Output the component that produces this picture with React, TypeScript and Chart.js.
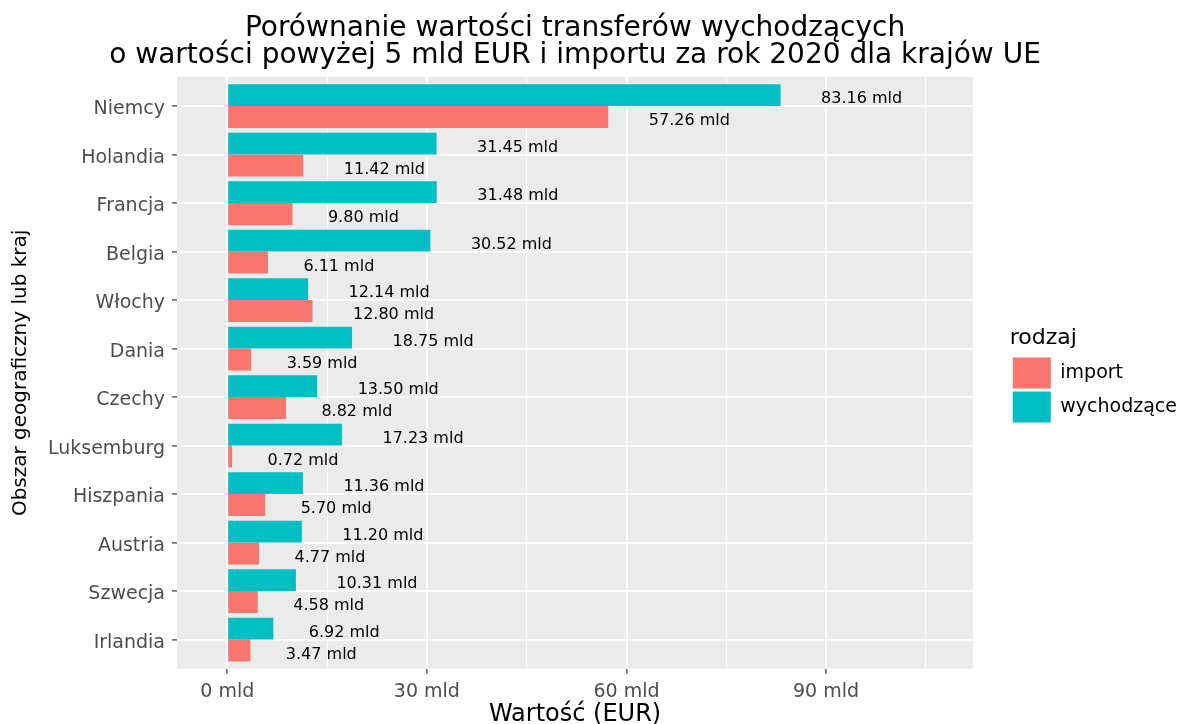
import { useEffect, useRef } from 'react';
import { Chart, registerables } from 'chart.js';

Chart.register(...registerables);

const FONT = "'DejaVu Sans', sans-serif";

const categories = [
  'Niemcy', 'Holandia', 'Francja', 'Belgia', 'Włochy', 'Dania',
  'Czechy', 'Luksemburg', 'Hiszpania', 'Austria', 'Szwecja', 'Irlandia',
];
const outgoingValues = [83.16, 31.45, 31.48, 30.52, 12.14, 18.75, 13.5, 17.23, 11.36, 11.2, 10.31, 6.92];
const importValues = [57.26, 11.42, 9.8, 6.11, 12.8, 3.59, 8.82, 0.72, 5.7, 4.77, 4.58, 3.47];
const seriesNames = ['wychodzące', 'import'];
const xMajorTicks = [0, 30, 60, 90];
const titleLines = [
  'Porównanie wartości transferów wychodzących',
  'o wartości powyżej 5 mld EUR i importu za rok 2020 dla krajów UE',
];

export default function App() {
  const ref = useRef<HTMLCanvasElement>(null);

  useEffect(() => {
    const canvas = ref.current!;

    const panelPlugin = {
      id: 'panelBg',
      beforeDraw(chart: any) {
        const { ctx, chartArea: a, width, height } = chart;
        ctx.save();
        ctx.fillStyle = '#FFFFFF';
        ctx.fillRect(0, 0, width, height);
        ctx.fillStyle = '#EBEBEB';
        ctx.fillRect(a.left, a.top, a.right - a.left, a.bottom - a.top);
        ctx.restore();
      },
    };

    // Plot title, centred over the panel like ggplot's plot.title
    const titlePlugin = {
      id: 'panelTitle',
      afterDraw(chart: any) {
        const { ctx, chartArea: a } = chart;
        const cx = (a.left + a.right) / 2;
        ctx.save();
        ctx.font = `28px ${FONT}`;
        ctx.fillStyle = '#000000';
        ctx.textAlign = 'center';
        ctx.textBaseline = 'alphabetic';
        titleLines.forEach((line, i) => {
          ctx.fillText(line, cx, 36 + i * 27);
        });
        ctx.restore();
      },
    };

    const labelPlugin = {
      id: 'valueLabels',
      afterDatasetsDraw(chart: any) {
        const { ctx } = chart;
        const xs = chart.scales.x;
        ctx.save();
        ctx.font = `16px ${FONT}`;
        ctx.fillStyle = '#000000';
        ctx.textAlign = 'center';
        ctx.textBaseline = 'middle';
        chart.data.datasets.forEach((ds: any, di: number) => {
          const meta = chart.getDatasetMeta(di);
          meta.data.forEach((el: any, i: number) => {
            const v = ds.data[i].x as number;
            const text = `${v.toFixed(2)} mld`;
            const w = ctx.measureText(text).width;
            ctx.fillText(text, xs.getPixelForValue(v) + w, el.y + 4);
          });
        });
        ctx.restore();
      },
    };

    const isMajor = (v: number) => xMajorTicks.includes(v);

    const chart = new Chart(canvas, {
      type: 'bar',
      data: {
        datasets: [
          {
            label: seriesNames[0],
            data: outgoingValues.map((v, i) => ({ x: v, y: i })),
            backgroundColor: '#00BFC4',
            borderWidth: 0,
            categoryPercentage: 0.9,
            barPercentage: 1.0,
          },
          {
            label: seriesNames[1],
            data: importValues.map((v, i) => ({ x: v, y: i })),
            backgroundColor: '#F8766D',
            borderWidth: 0,
            categoryPercentage: 0.9,
            barPercentage: 1.0,
          },
        ],
      },
      options: {
        indexAxis: 'y',
        responsive: false,
        animation: false,
        events: [],
        devicePixelRatio: 1,
        layout: { padding: { left: 0, right: -5, top: 77, bottom: 0 } },
        scales: {
          x: {
            type: 'linear',
            position: 'bottom',
            min: -7.56,
            max: 112.1,
            grid: {
              color: '#FFFFFF',
              lineWidth: (c: any) => (isMajor(c.tick?.value) ? 1.8 : 0.9),
              tickColor: (c: any) => (isMajor(c.tick?.value) ? '#333333' : 'rgba(0,0,0,0)'),
              tickLength: 5,
              tickWidth: 1.2,
            },
            border: { display: false },
            ticks: {
              stepSize: 15,
              includeBounds: false,
              autoSkip: false,
              maxRotation: 0,
              padding: 7,
              color: '#4D4D4D',
              font: { family: FONT, size: 19 },
              callback: (v: any) => (isMajor(Number(v)) ? `${v} mld` : ''),
            },
            title: {
              display: true,
              text: 'Wartość (EUR)',
              color: '#000000',
              font: { family: FONT, size: 24, lineHeight: 0.8 },
              padding: { top: 0, bottom: 0 },
            },
            afterFit: (s: any) => {
              s.height = 55.3;
            },
          },
          y: {
            type: 'linear',
            position: 'left',
            reverse: true,
            offset: false,
            min: -0.6,
            max: 11.6,
            grid: {
              offset: false,
              color: '#FFFFFF',
              lineWidth: 1.8,
              tickColor: '#333333',
              tickLength: 5,
              tickWidth: 1.2,
            },
            border: { display: false },
            ticks: {
              stepSize: 1,
              includeBounds: false,
              autoSkip: false,
              padding: 7,
              labelOffset: 3,
              color: '#4D4D4D',
              font: { family: FONT, size: 19 },
              callback: (v: any) => categories[Number(v)] ?? '',
            },
            title: {
              display: true,
              text: 'Obszar geograficzny lub kraj',
              color: '#000000',
              font: { family: FONT, size: 20, lineHeight: 1.2 },
              padding: { top: 9, bottom: 0 },
            },
            afterFit: (s: any) => {
              s.width = 177;
            },
          },
          spacer: {
            type: 'linear',
            position: 'right',
            display: true,
            grid: { display: false, drawTicks: false },
            border: { display: false },
            ticks: { display: false },
            afterFit: (s: any) => {
              s.width = 36.7;
            },
          },
        },
        plugins: {
          title: { display: false },
          legend: {
            display: true,
            position: 'right',
            fullSize: false,
            reverse: true,
            align: 'center',
            title: {
              display: true,
              text: 'rodzaj',
              position: 'start',
              color: '#000000',
              font: { family: FONT, size: 22, lineHeight: 1.2 },
              padding: { top: 7, bottom: 1 },
            },
            labels: {
              boxWidth: 38,
              boxHeight: 31,
              padding: 3,
              color: '#000000',
              font: { family: FONT, size: 19 },
            },
          },
          tooltip: { enabled: false },
        },
      },
      plugins: [panelPlugin, labelPlugin, titlePlugin],
    } as any);

    return () => chart.destroy();
  }, []);

  return (
    <div style={{ position: 'fixed', left: 0, top: 0, width: 1182, height: 724, background: '#fff' }}>
      <canvas ref={ref} width={1182} height={724} style={{ width: 1182, height: 724, display: 'block' }} />
    </div>
  );
}
